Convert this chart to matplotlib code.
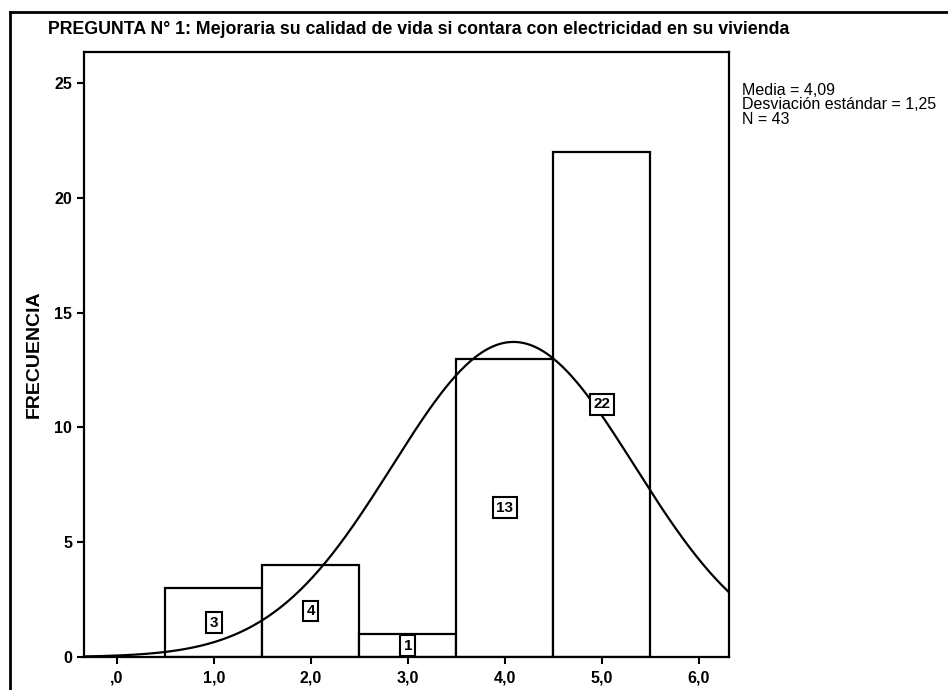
import matplotlib.pyplot as plt
import numpy as np
from matplotlib.lines import Line2D

# Data
valores = [1, 2, 3, 4, 5]
frecuencias = [3, 4, 1, 13, 22]
media = 4.09
desviacion = 1.25
n_total = 43

x_ticks = [0, 1, 2, 3, 4, 5, 6]
x_tick_labels = [",0", "1,0", "2,0", "3,0", "4,0", "5,0", "6,0"]
y_ticks = [0, 5, 10, 15, 20, 25]

titulo = "PREGUNTA N° 1: Mejoraria su calidad de vida si contara con electricidad en su vivienda"

plt.rcParams['font.family'] = ['Liberation Sans', 'DejaVu Sans']

fig = plt.figure(figsize=(9.48, 6.9), dpi=100)
ax = fig.add_axes([0.0886, 0.0478, 0.680, 0.8768])

# Histogram bars (white with black edges)
ax.bar(valores, frecuencias, width=1.0, color='white', edgecolor='black', linewidth=1.6, zorder=2)

# Normal curve scaled to counts
xs = np.linspace(-0.34, 6.31, 400)
ys = n_total * np.exp(-0.5 * ((xs - media) / desviacion) ** 2) / (desviacion * np.sqrt(2 * np.pi))
ax.plot(xs, ys, color='black', linewidth=1.6, zorder=3)

# Count labels in small boxes at half bar height
for v, f in zip(valores, frecuencias):
    ax.text(v, f / 2, str(f), ha='center', va='center', fontsize=11, fontweight='bold', zorder=4,
            bbox=dict(boxstyle='square,pad=0.22', facecolor='white', edgecolor='black', linewidth=1.5))

ax.set_xlim(-0.34, 6.31)
ax.set_ylim(0, 26.35)
ax.set_xticks(x_ticks)
ax.set_xticklabels(x_tick_labels)
ax.set_yticks(y_ticks)
ax.tick_params(axis='both', direction='out', length=5, width=1.5, labelsize=11.5)
ax.tick_params(axis='x', pad=5)
for lab in ax.get_xticklabels() + ax.get_yticklabels():
    lab.set_fontweight('bold')
for s in ax.spines.values():
    s.set_linewidth(1.6)

ax.set_ylabel("FRECUENCIA", fontsize=14, fontweight='bold', labelpad=8)

# Title and stats text
fig.text(48 / 948, 1 - 30 / 690, titulo, fontsize=12.8, fontweight='bold', ha='left', va='center')
fig.text(742 / 948, 1 - 83 / 690, "Media = 4,09\nDesviación estándar = 1,25\nN = 43",
         fontsize=11.5, ha='left', va='top', linespacing=0.95)

# Outer frame (only top and left edges visible)
fig.add_artist(Line2D([10 / 948, 1.0], [1 - 12 / 690, 1 - 12 / 690], color='black', linewidth=2, transform=fig.transFigure))
fig.add_artist(Line2D([10 / 948, 10 / 948], [0, 1 - 12 / 690], color='black', linewidth=2, transform=fig.transFigure))

fig.savefig('out.png', dpi=100)
